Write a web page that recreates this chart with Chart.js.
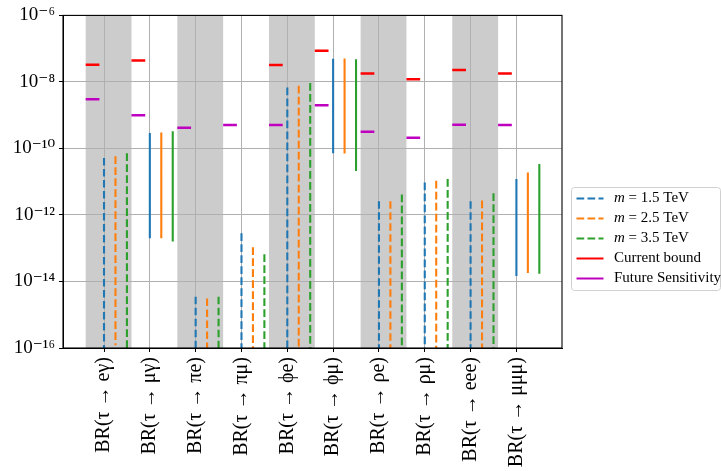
<!DOCTYPE html>
<html>
<head>
<meta charset="utf-8">
<script src="https://cdn.jsdelivr.net/npm/chart.js@4/dist/chart.umd.min.js"></script>
<style>
  html, body { margin: 0; padding: 0; background: #ffffff; }
  #wrap { width: 721px; height: 471px; position: relative; }
</style>
</head>
<body>
<div id="wrap"><canvas id="c"></canvas></div>
<script>
// ---------- data ----------
const categories = ['BR(τ → eγ)', 'BR(τ → μγ)', 'BR(τ → πe)', 'BR(τ → πμ)', 'BR(τ → ϕe)',
                    'BR(τ → ϕμ)', 'BR(τ → ρe)', 'BR(τ → ρμ)', 'BR(τ → eee)', 'BR(τ → μμμ)'];
const lineKind = ['dashed', 'solid', 'dashed', 'dashed', 'dashed', 'solid', 'dashed', 'dashed', 'dashed', 'solid'];
const shadedCategory = [true, false, true, false, true, false, true, false, true, false];

const m15Upper = [5.2e-11, 2.9e-10, 3.5e-15, 2.8e-13, 6.8e-9, 5.0e-8, 2.6e-12, 9.5e-12, 2.6e-12, 1.2e-11];
const m15Lower = [1e-17, 2.0e-13, 1e-17, 1e-17, 1e-17, 7.2e-11, 1e-17, 1e-17, 1e-17, 1.45e-14];
const m25Upper = [5.8e-11, 3.0e-10, 3.1e-15, 1.07e-13, 7.7e-9, 5.1e-8, 2.6e-12, 1.07e-11, 2.7e-12, 1.9e-11];
const m25Lower = [1.2e-16, 2.0e-13, 1e-17, 1e-17, 1e-17, 7.0e-11, 1e-17, 1e-17, 1e-17, 1.8e-14];
const m35Upper = [7.2e-11, 3.3e-10, 3.5e-15, 6.6e-14, 9.3e-9, 4.8e-8, 4.1e-12, 1.2e-11, 4.5e-12, 3.4e-11];
const m35Lower = [1e-17, 1.6e-13, 1e-17, 1e-17, 1e-17, 2.1e-11, 1e-17, 1e-17, 1e-17, 1.7e-14];

const currentBound = [3.3e-8, 4.4e-8, null, null, 3.2e-8, 8.7e-8, 1.8e-8, 1.2e-8, 2.3e-8, 1.8e-8];
const futureSensitivity = [3.0e-9, 1.0e-9, 4.2e-10, 5.1e-10, 5.1e-10, 2.0e-9, 3.2e-10, 2.1e-10, 5.2e-10, 5.1e-10];

const yTickValues = [1e-16, 1e-14, 1e-12, 1e-10, 1e-8, 1e-6];
const massLabels = ['1.5 TeV', '2.5 TeV', '3.5 TeV'];

// ---------- build datasets ----------
const COLORS = ['#1f77b4', '#ff7f0e', '#2ca02c'];
const DASH = [7.7, 3.3];
const massSeries = [[m15Upper, m15Lower], [m25Upper, m25Lower], [m35Upper, m35Lower]];
const OFFSETS = [0, 0.25, 0.5];

function verticalSegments(upper, lower, off, kind) {
  const pts = [];
  categories.forEach((c, i) => {
    if (lineKind[i] !== kind) return;
    pts.push({ x: i + off, y: upper[i] });
    pts.push({ x: i + off, y: lower[i] });
    pts.push({ x: i + off, y: null });
  });
  return pts;
}
function horizontalSegments(vals) {
  const pts = [];
  vals.forEach((v, i) => {
    if (v == null) return;
    pts.push({ x: i - 0.4, y: v });
    pts.push({ x: i - 0.1, y: v });
    pts.push({ x: i - 0.1, y: null });
  });
  return pts;
}

const datasets = [];
massSeries.forEach(([up, lo], k) => {
  datasets.push({
    label: 'm = ' + massLabels[k], data: verticalSegments(up, lo, OFFSETS[k], 'dashed'),
    borderColor: COLORS[k], borderWidth: 2.1, borderDash: DASH, pointRadius: 0, spanGaps: false
  });
  datasets.push({
    label: 'm = ' + massLabels[k] + ' (solid)', data: verticalSegments(up, lo, OFFSETS[k], 'solid'),
    borderColor: COLORS[k], borderWidth: 2.1, pointRadius: 0, spanGaps: false
  });
});
datasets.push({ label: 'Current bound', data: horizontalSegments(currentBound),
  borderColor: '#ff0000', borderWidth: 2.5, pointRadius: 0, spanGaps: false });
datasets.push({ label: 'Future Sensitivity', data: horizontalSegments(futureSensitivity),
  borderColor: '#bf00bf', borderWidth: 2.5, pointRadius: 0, spanGaps: false });

// ---------- helpers ----------
const SUP = { '-': '⁻', '0': '⁰', '1': '¹', '2': '²', '3': '³', '4': '⁴', '5': '⁵', '6': '⁶', '7': '⁷', '8': '⁸', '9': '⁹' };
function powLabel(v) {
  const e = Math.round(Math.log10(v));
  return '10' + String(e).split('').map(ch => SUP[ch]).join('');
}
const SERIF = '"Liberation Serif", "DejaVu Serif", serif';

// shaded spans under the grid
const spanPlugin = {
  id: 'spans',
  beforeDraw(chart) {
    const { ctx, chartArea: a, scales: { x } } = chart;
    ctx.save();
    ctx.fillStyle = '#cccccc';
    shadedCategory.forEach((s, i) => {
      if (!s) return;
      const l = x.getPixelForValue(i - 0.4), r = x.getPixelForValue(i + 0.6);
      ctx.fillRect(l, a.top, r - l, a.bottom - a.top);
    });
    ctx.restore();
  }
};

// frame + legend
const framePlugin = {
  id: 'frameLegend',
  afterDraw(chart) {
    const { ctx, chartArea: a } = chart;
    ctx.save();
    ctx.strokeStyle = '#000000';
    ctx.lineWidth = 1.1;
    ctx.strokeRect(a.left, a.top, a.right - a.left, a.bottom - a.top);

    // legend box
    const bx = a.right + 9.5, by = 187.5, bw = 149, bh = 103, r = 3;
    ctx.beginPath();
    ctx.moveTo(bx + r, by);
    ctx.lineTo(bx + bw - r, by); ctx.arcTo(bx + bw, by, bx + bw, by + r, r);
    ctx.lineTo(bx + bw, by + bh - r); ctx.arcTo(bx + bw, by + bh, bx + bw - r, by + bh, r);
    ctx.lineTo(bx + r, by + bh); ctx.arcTo(bx, by + bh, bx, by + bh - r, r);
    ctx.lineTo(bx, by + r); ctx.arcTo(bx, by, bx + r, by, r);
    ctx.closePath();
    ctx.fillStyle = 'rgba(255,255,255,0.8)';
    ctx.fill();
    ctx.strokeStyle = '#d0d0d0';
    ctx.lineWidth = 1;
    ctx.stroke();

    const items = [
      { color: COLORS[0], dash: DASH, mass: massLabels[0] },
      { color: COLORS[1], dash: DASH, mass: massLabels[1] },
      { color: COLORS[2], dash: DASH, mass: massLabels[2] },
      { color: '#ff0000', dash: [], text: 'Current bound' },
      { color: '#bf00bf', dash: [], text: 'Future Sensitivity' }
    ];
    const x0 = a.right + 14.5, x1 = a.right + 41.5, tx = a.right + 52;
    items.forEach((it, k) => {
      const y = 198.5 + k * 20;
      ctx.beginPath();
      ctx.setLineDash(it.dash);
      ctx.strokeStyle = it.color;
      ctx.lineWidth = 2;
      ctx.moveTo(x0, y); ctx.lineTo(x1, y);
      ctx.stroke();
      ctx.setLineDash([]);
      ctx.fillStyle = '#000000';
      ctx.textBaseline = 'middle';
      ctx.textAlign = 'left';
      if (it.mass) {
        ctx.font = 'italic 15px ' + SERIF;
        ctx.fillText('m', tx, y);
        const w = ctx.measureText('m').width;
        ctx.font = '15px ' + SERIF;
        ctx.fillText(' = ' + it.mass, tx + w, y);
      } else {
        ctx.font = '15px ' + SERIF;
        ctx.fillText(it.text, tx, y);
      }
    });
    ctx.restore();
  }
};

new Chart(document.getElementById('c'), {
  type: 'line',
  data: { datasets },
  options: {
    responsive: true,
    maintainAspectRatio: false,
    animation: false,
    events: [],
    layout: { padding: { left: 0, right: 159, top: 14, bottom: 0 } },
    plugins: { legend: { display: false }, tooltip: { enabled: false } },
    scales: {
      x: {
        type: 'linear',
        min: -0.895, max: 9.995,
        afterBuildTicks(scale) { scale.ticks = categories.map((c, i) => ({ value: i })); },
        afterFit(scale) { scale.height = 123; },
        ticks: {
          autoSkip: false, maxRotation: 90, minRotation: 90, padding: 5,
          color: '#000000', font: { family: SERIF, size: 20 },
          callback: (v) => categories[Math.round(v)]
        },
        grid: { color: '#b0b0b0', lineWidth: 1, tickLength: 4, tickColor: '#000000', tickWidth: 1 },
        border: { display: true, color: '#000000', width: 1 }
      },
      y: {
        type: 'logarithmic',
        min: 1e-16, max: 1e-6,
        afterBuildTicks(scale) { scale.ticks = yTickValues.map(v => ({ value: v })); },
        afterFit(scale) { scale.width = 63; },
        ticks: {
          autoSkip: false, padding: 4, color: '#000000', font: { family: SERIF, size: 19 },
          callback: (v) => powLabel(v)
        },
        grid: { color: '#b0b0b0', lineWidth: 1, tickLength: 4, tickColor: '#000000', tickWidth: 1 },
        border: { display: true, color: '#000000', width: 1 }
      }
    }
  },
  plugins: [spanPlugin, framePlugin]
});
</script>
</body>
</html>
